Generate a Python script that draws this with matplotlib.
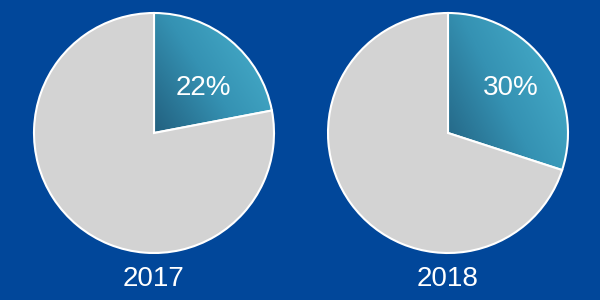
import numpy as np
import matplotlib.pyplot as plt
from matplotlib.colors import LinearSegmentedColormap

years = ['2017', '2018']
shares = [22, 30]

bg = '#01479a'
grey = '#d3d3d3'
grad = LinearSegmentedColormap.from_list('g', ['#22607f', '#3592b3', '#47aecb'])

centers = [(154, 167), (448, 167)]
radius = 120
label_off = [(49, 45), (63, 45)]

plt.rcParams['font.family'] = ['Liberation Sans', 'DejaVu Sans']

fig = plt.figure(figsize=(6, 3), dpi=100, facecolor=bg)
ax = fig.add_axes([0, 0, 1, 1])
ax.set_facecolor(bg)

for (cx, cy), year, share, off in zip(centers, years, shares, label_off):
    wedges, _ = ax.pie([share, 100 - share], startangle=90, counterclock=False,
                       center=(cx, cy), radius=radius, colors=['none', grey],
                       wedgeprops=dict(edgecolor='white', linewidth=1.5), frame=True)
    w = wedges[0]
    # bounding box of the highlighted slice, used for the gradient fill
    th = np.radians(np.linspace(90, 90 - share * 3.6, 100))
    xs = np.r_[cx, cx + radius * np.cos(th)]
    ys = np.r_[cy, cy + radius * np.sin(th)]
    x0, x1, y0, y1 = xs.min(), xs.max(), ys.min(), ys.max()
    gx, gy = np.meshgrid(np.linspace(0, 1, 200), np.linspace(0, 1, 200))
    g = np.clip((gx * 0.6 + gy * 0.4) * 1.1, 0, 1)
    im = ax.imshow(g, cmap=grad, extent=[x0, x1, y0, y1], origin='lower',
                   aspect='auto', zorder=0.5, vmin=0, vmax=1)
    im.set_clip_path(w)
    w.set_zorder(1)
    ax.text(cx + off[0], cy + off[1], f'{share}%', color='white', fontsize=20,
            ha='center', va='center', zorder=3)
    ax.text(cx, 21, year, color='white', fontsize=20, ha='center', va='center')

ax.set_xlim(0, 600)
ax.set_ylim(0, 300)
ax.set_aspect('equal')
ax.axis('off')

fig.savefig('out.png', dpi=100, facecolor=bg)
